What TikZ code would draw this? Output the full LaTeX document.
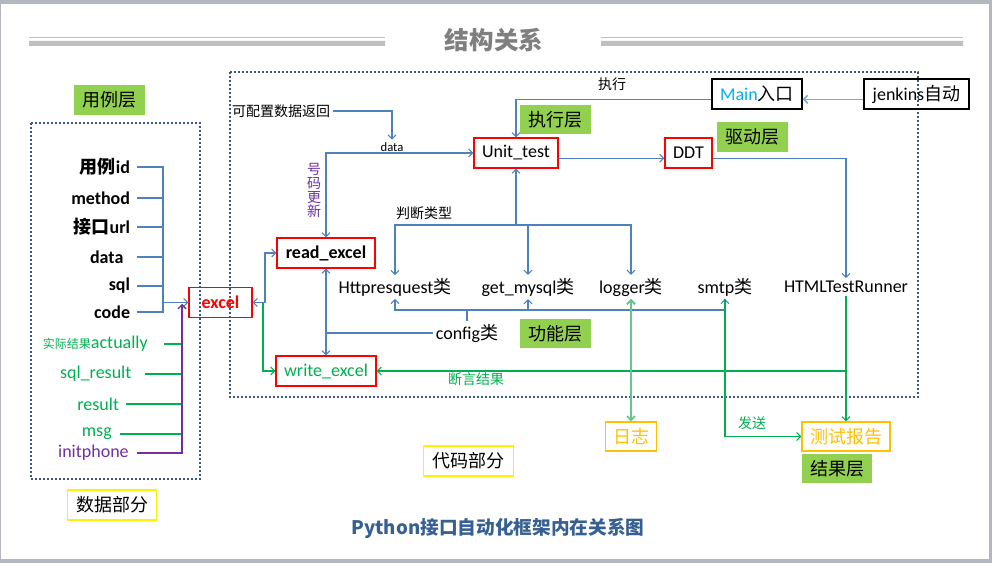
\documentclass[tikz,border=0pt]{standalone}
\usepackage{fontspec}
\setmainfont{Carlito}
\newfontfamily\cjk{Noto Sans CJK SC}
\usetikzlibrary{arrows.meta,positioning}
\definecolor{linkblue}{RGB}{79,129,189}
\definecolor{okgreen}{RGB}{0,176,80}
\definecolor{palegreen}{RGB}{100,200,140}
\definecolor{layergreen}{RGB}{146,208,80}
\definecolor{phonepurple}{RGB}{112,48,160}
\definecolor{reportorange}{RGB}{255,192,0}
\definecolor{framenavy}{RGB}{59,86,128}
\definecolor{titlegray}{RGB}{127,127,127}
\definecolor{rulegray}{RGB}{191,191,191}
\definecolor{pagegray}{RGB}{180,183,192}
\definecolor{mainblue}{RGB}{0,176,240}
\definecolor{captionblue}{RGB}{54,96,146}
\newcommand{\zh}[1]{{\cjk #1}}

\begin{document}
\begin{tikzpicture}[x=0.75pt,y=-0.75pt,
  >={Straight Barb[length=3pt,width=6pt]},
  every node/.style={font=\fontsize{13.5}{16}\selectfont,inner sep=2pt},
  zhsmall/.style={font=\cjk\fontsize{10.5}{12}\selectfont},
  layer/.style={fill=layergreen,inner sep=0pt,minimum width=53pt,minimum height=22pt,font=\cjk\fontsize{13.5}{16}\selectfont},
  part/.style={draw=yellow,line width=0.9pt,inner sep=0pt,minimum width=67pt,minimum height=22.5pt,font=\cjk\fontsize{13.5}{16}\selectfont},
  result/.style={draw=reportorange,text=reportorange,line width=0.9pt,inner sep=0pt,minimum height=21.75pt,font=\cjk\fontsize{13.5}{16}\selectfont},
  redbox/.style={draw=red,line width=0.9pt,inner sep=0pt,minimum height=22.5pt},
  blackbox/.style={draw=black,line width=0.9pt,inner sep=0pt,minimum height=22.5pt},
  item/.style={anchor=east,inner xsep=5pt,font=\bfseries\fontsize{13.5}{16}\selectfont},
  gitem/.style={anchor=east,text=okgreen},
  bl/.style={draw=linkblue,line width=0.8pt},
  gl/.style={draw=okgreen,line width=0.8pt},
  pl/.style={draw=phonepurple,line width=0.8pt},
  zone/.style={draw=framenavy,line width=1.5pt,dash pattern=on 1.5pt off 1.5pt}]
% page
\fill[pagegray] (0,0) rectangle (992,563);
\fill[white] (1,4) rectangle (989,559);
\useasboundingbox (0,0) rectangle (992,563);
% title
\node[font=\cjk\bfseries\fontsize{18.4}{20}\selectfont,text=titlegray] (title) at (494,40) {结构关系};
\draw[rulegray,line width=0.75pt] (29,38) -- (385,38) (601,38) -- (963,38);
\fill[rulegray] (29,41) rectangle (385,46) (601,41) rectangle (963,46);
% zones
\draw[zone] (31,123) rectangle (200,479);
\draw[zone] (230,72) rectangle (918,397);
% layer labels
\node[layer] (caselayer) at (109.5,100) {用例层};
\node[layer] (execlayer) at (555.5,119.5) {执行层};
\node[layer] (drivelayer) at (752.5,137) {驱动层};
\node[layer] (funclayer) at (555.5,333.5) {功能层};
\node[layer] (reslayer) at (837,468.5) {结果层};
\node[part] (datapart) at (112,505) {数据部分};
\node[part] (codepart) at (468.5,461) {代码部分};
% data part
\node[item] (fid) at (137,167) {\zh{用例}id};
\node[item] (fmeth) at (137,198) {method};
\node[item] (furl) at (137,227) {\zh{接口}url};
\node[item,inner xsep=10pt] (fdata) at (137,257) {data};
\node[item] (fsql) at (137,286) {sql};
\node[item] (fcode) at (137,312) {code};
\node[gitem,inner xsep=12pt] (fact) at (164,344) {\zh{\fontsize{9}{10}\selectfont 实际结果}actually};
\node[gitem,inner xsep=10pt] (fsqlr) at (145,374) {sql\_result};
\node[gitem,inner xsep=5pt] (fres) at (126,404) {result};
\node[gitem,inner xsep=6pt] (fmsg) at (120,434) {msg};
\node[gitem,inner xsep=6pt,text=phonepurple] (fphone) at (137,453) {initphone};
\node[redbox,minimum width=47.25pt,text=red,font=\bfseries\fontsize{13.5}{16}\selectfont] (excel) at (220.5,302.5) {excel};
\coordinate (bj) at (163,302.5);
\coordinate (gj) at (182,304);
\draw[bl] (fid.east) -| (bj);
\draw[bl] (fcode.east) -| (bj);
\draw[bl] (fmeth.east) -- (fmeth.east -| bj);
\draw[bl] (furl.east) -- (furl.east -| bj);
\draw[bl] (fdata.east) -- (fdata.east -| bj);
\draw[bl] (fsql.east) -- (fsql.east -| bj);
\draw[bl,->] (bj) -- (excel.west);
\draw[gl] (fact.east) -- (fact.east -| gj);
\draw[gl] (fsqlr.east) -- (fsqlr.east -| gj);
\draw[gl] (fres.east) -- (fres.east -| gj);
\draw[gl,->] (fmsg.east) -| (gj);
\draw[pl,->] (fphone.east) -| (gj);
% code part
\node[redbox,minimum width=73.5pt,font=\bfseries\fontsize{13.5}{16}\selectfont] (readx) at (326,253) {read\_excel};
\node[redbox,minimum width=75pt,text=okgreen] (writex) at (326,371) {write\_excel};
\node[redbox,minimum width=63pt] (unit) at (516,153) {Unit\_test};
\node[redbox,minimum width=35.25pt] (ddt) at (688.5,153) {DDT};
\node[blackbox,minimum width=67.5pt] (mainin) at (757,94) {\textcolor{mainblue}{Main}\zh{入口}};
\node[blackbox,minimum width=78.75pt] (jenkins) at (916.5,94) {jenkins\zh{自动}};
\node[zhsmall] (cfgdata) at (281,111) {可配置数据返回};
\node[font=\fontsize{9.5}{11}\selectfont] (datatag) at (392,147) {data};
\node[zhsmall] (run) at (612,84) {执行};
\node[zhsmall] (judge) at (424,213) {判断类型};
\node[align=center,text=phonepurple,font=\cjk\fontsize{10.5}{10.5}\selectfont] (renew) at (314,190) {号\\码\\更\\新};
\node (http) at (395,287) {Httpresquest\zh{类}};
\node (mysql) at (528,287) {get\_mysql\zh{类}};
\node (logger) at (631,287) {logger\zh{类}};
\node (smtp) at (725,287) {smtp\zh{类}};
\node (html) at (846,287) {HTMLTestRunner};
\node (cfg) at (467,333) {config\zh{类}};
\node[result,minimum width=38.25pt] (log) at (631,436.5) {日志};
\node[result,minimum width=66pt] (report) at (846,436.5) {测试报告};
\node[zhsmall,text=okgreen] (assert) at (476,379) {断言结果};
\node[zhsmall,text=okgreen] (send) at (752,423) {发送};
\node[font=\cjk\bfseries\fontsize{14}{16}\selectfont,text=captionblue] (caption) at (498,528) {Python接口自动化框架内在关系图};
\coordinate (exj) at (265,270);
\coordinate (exg) at (263,340);
\coordinate (split) at (516,225);
\coordinate (cfgbus) at (468,310);
\draw[bl,->] (cfgdata.east) -| (datatag.north);
\draw[bl,<->] (readx.north) |- (unit.west);
\draw[bl,->] ([yshift=-4pt]mainin.west) -| (unit.north);
\draw[bl,->,line width=1.2pt,linkblue!70] ([yshift=-4pt]jenkins.west) -- ([yshift=-4pt]mainin.east);
\draw[bl,->] ([yshift=-4pt]unit.east) -- ([yshift=-4pt]ddt.west);
\draw[bl,->] ([yshift=-4pt]ddt.east) -| (html.north);
\draw[bl,<-] (unit.south) -- (split);
\draw[bl,->] (split) -| (http.north);
\draw[bl,->] (split) -| (mysql.north);
\draw[bl,->] (split) -| (logger.north);
\draw[bl] (cfg.north) -- (cfg.north |- cfgbus);
\draw[bl,->] (cfg.north |- cfgbus) -| (http.south);
\draw[bl,->] (cfg.north |- cfgbus) -| (mysql.south);
\draw[bl,->] (cfg.north |- cfgbus) -| (logger.south);
\draw[bl,->] (cfg.north |- cfgbus) -| (smtp.south);
\draw[bl,<->] (readx.south) -- (writex.north);
\draw[bl,line width=1.4pt] (cfg.west) -- (cfg.west -| readx.south);
\draw[bl,<->] (excel.east) -| (exj) |- (readx.west);
\draw[gl,->] (excel.east -| exg) |- (writex.west);
\draw[gl,->] (html.south) -- (report.north);
\draw[gl,->] (html.south |- writex.east) -- (writex.east);
\draw[gl,<->,palegreen,line width=1.4pt] (logger.south) -- (log.north);
\draw[gl,->] (smtp.south) |- (report.west);
\end{tikzpicture}
\end{document}
